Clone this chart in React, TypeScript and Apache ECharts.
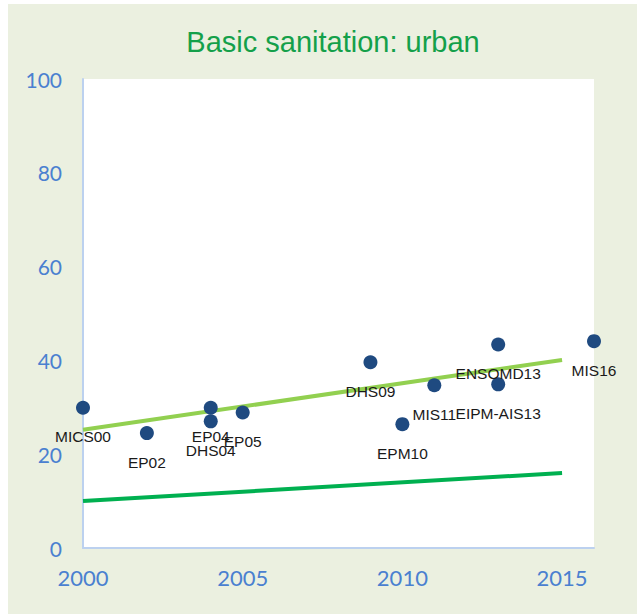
import React, { useEffect, useRef } from "react";
import * as echarts from "echarts";

const surveyNames = ["MICS00", "EP02", "EP04", "DHS04", "EP05", "DHS09", "EPM10", "MIS11", "ENSOMD13", "EIPM-AIS13", "MIS16"];
const surveyYears = [2000, 2002, 2004, 2004, 2005, 2009, 2010, 2011, 2013, 2013, 2016];
const surveyValues = [29.9, 24.5, 29.9, 27.0, 28.9, 39.6, 26.4, 34.7, 43.4, 34.9, 44.1];

const trendYears = [2000, 2015];
const trendValues = [25.2, 40.1];
const targetYears = [2000, 2015];
const targetValues = [10, 16];

const titleText = "Basic sanitation: urban";

export default function App() {
  const ref = useRef<HTMLDivElement>(null);
  useEffect(() => {
    if (!ref.current) return;
    const chart = echarts.init(ref.current, null, { renderer: "svg" });
    const points = surveyYears.map((y, i) => ({ value: [y, surveyValues[i]], name: surveyNames[i] }));
    chart.setOption({
      animation: false,
      backgroundColor: "#ffffff",
      graphic: [
        {
          type: "rect",
          z: -10,
          silent: true,
          shape: { x: 8, y: 4, width: 629, height: 610 },
          style: { fill: "#EBF0E0" },
        },
      ],
      title: {
        text: titleText,
        left: 328,
        top: 22,
        textAlign: "center",
        textStyle: {
          fontFamily: "Liberation Sans",
          fontSize: 29,
          fontWeight: "normal",
          color: "#14A04A",
        },
      },
      grid: { left: 83, right: 43, top: 79, bottom: 66, backgroundColor: "#ffffff", show: true, borderWidth: 0 },
      xAxis: {
        type: "value",
        min: 2000,
        max: 2016,
        interval: 5,
        splitLine: { show: false },
        axisTick: { show: false },
        axisLine: { show: true, onZero: false, lineStyle: { color: "#BCD1EF", width: 2 } },
        axisLabel: {
          margin: 18,
          fontFamily: "Lato",
          fontSize: 22,
          color: "#4A80D0",
          formatter: (v: number) => (v % 5 === 0 ? String(v) : ""),
        },
      },
      yAxis: {
        type: "value",
        min: 0,
        max: 100,
        interval: 20,
        splitLine: { show: false },
        axisTick: { show: false },
        axisLine: { show: true, onZero: false, lineStyle: { color: "#BCD1EF", width: 2 } },
        axisLabel: {
          margin: 21,
          fontFamily: "Lato",
          fontSize: 21,
          color: "#4A80D0",
        },
      },
      series: [
        {
          type: "line",
          data: targetYears.map((y, i) => [y, targetValues[i]]),
          symbol: "none",
          lineStyle: { color: "#00B050", width: 4 },
          z: 2,
        },
        {
          type: "line",
          data: trendYears.map((y, i) => [y, trendValues[i]]),
          symbol: "none",
          lineStyle: { color: "#92D050", width: 4 },
          z: 2,
        },
        {
          type: "scatter",
          data: points,
          symbolSize: 14,
          itemStyle: { color: "#1F4A80", opacity: 1 },
          z: 3,
          label: {
            show: true,
            position: "bottom",
            distance: 14,
            formatter: (p: any) => p.name,
            fontFamily: "Liberation Sans",
            fontSize: 15.5,
            color: "#1a1a1a",
          },
          labelLayout: { hideOverlap: false },
        },
      ],
    });
    return () => chart.dispose();
  }, []);
  return (
    <div
      ref={ref}
      style={{ position: "absolute", left: 0, top: 0, width: 637, height: 614 }}
    />
  );
}
